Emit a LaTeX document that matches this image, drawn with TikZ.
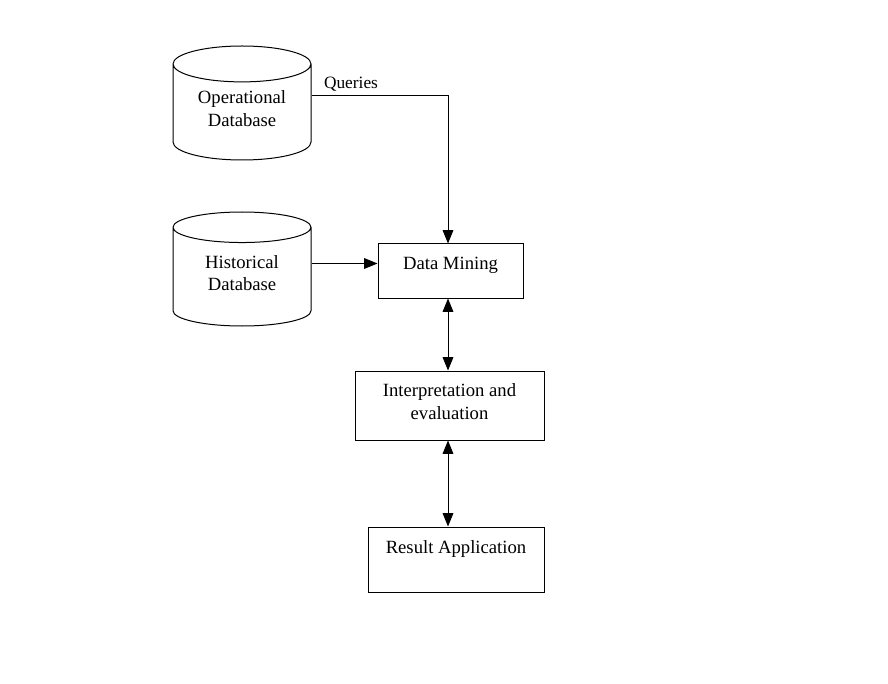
\documentclass[tikz,border=0pt]{standalone}
\usepackage{fontspec}
\setmainfont{Liberation Serif}
\usetikzlibrary{shapes.geometric,arrows.meta}
\tikzset{
  dbcyl/.style={draw, cylinder, shape border rotate=90, aspect=0.37, anchor=shape center,
    minimum width=103.5pt, minimum height=85.5pt, align=center, text depth=10pt, line width=0.75pt},
  blocco/.style={draw, rectangle, align=center, line width=0.75pt, inner sep=2pt},
  freccia/.style={line width=0.75pt, -{Triangle[length=10pt,width=8pt]}},
  doppia/.style={line width=0.75pt, {Triangle[length=10pt,width=8pt]}-{Triangle[length=10pt,width=8pt]}}
}
\begin{document}
\begin{tikzpicture}[x=0.75pt, y=-0.75pt, font=\fontsize{14}{17}\selectfont]
  \useasboundingbox (0,0) rectangle (888,684);
  % Basi di dati
  \node[dbcyl] (opdb) at (242,103) {Operational\\Database};
  \node[dbcyl] (hisdb) at (242,269) {Historical\\Database};
  % Blocchi
  \node[blocco, minimum width=108.75pt, minimum height=40.5pt, text depth=12pt] (mining) at (450.5,271) {Data Mining};
  \node[blocco, minimum width=141.75pt, minimum height=51.75pt, text depth=6pt] (interp) at (449.5,405.5) {Interpretation and\\evaluation};
  \node[blocco, minimum width=132pt, minimum height=48.75pt, text depth=18pt] (result) at (456,559.5) {Result Application};
  % Collegamenti
  \coordinate (trunk) at (448,95.5);
  \coordinate (hisout) at (312,263.5);
  \draw[freccia] (opdb.east |- trunk) -- (trunk) -- (trunk |- mining.north);
  \node[font=\fontsize{13}{15}\selectfont] (queries) at (351,84) {Queries};
  \draw[freccia] (hisout) -- (hisout -| mining.west);
  \draw[doppia] (trunk |- mining.south) -- (trunk |- interp.north);
  \draw[doppia] (trunk |- interp.south) -- (trunk |- result.north);
\end{tikzpicture}
\end{document}
